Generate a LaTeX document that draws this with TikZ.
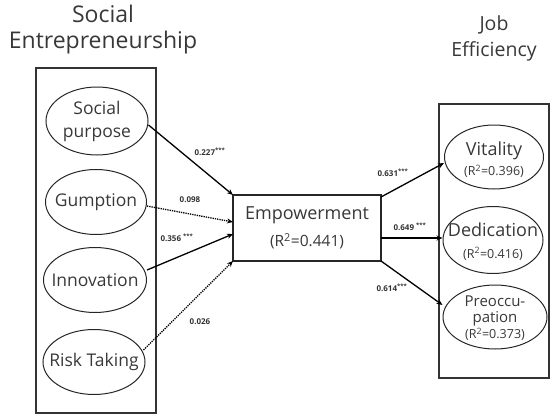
\documentclass[tikz,border=0pt]{standalone}
\usepackage{fontspec}
\setmainfont{Open Sans}
\usetikzlibrary{shapes.geometric,arrows.meta}
\newcommand\rsqfont{\fontsize{12.5}{14}\selectfont}
\begin{document}
\begin{tikzpicture}[x=1pt,y=-1pt,
  grp/.style={draw=black!80,line width=1.1pt},
  latent/.style={draw=black!85,ellipse,line width=1pt,inner sep=0pt},
  lbl/.style={inner sep=0pt,text=black!78,font=\fontsize{17.5}{23}\selectfont,align=center},
  path/.style={line width=1.3pt,-{Stealth[length=6pt,width=5pt]}},
  weak/.style={line width=1.3pt,densely dotted,-{Stealth[length=6pt,width=5pt]}},
  coef/.style={font=\fontsize{8}{9}\selectfont\bfseries,text=black!80,inner sep=0pt},
  ttl/.style={font=\fontsize{23}{26}\selectfont,text=black!78,align=center}
]
\useasboundingbox (0,0) rectangle (557,415);
% titles
\node[ttl] (t1) at (103,14) {Social};
\node[ttl] (t2) at (103,43) {Entrepreneurship};
\node[ttl,font=\fontsize{19.5}{22}\selectfont] (t3) at (494,25) {Job};
\node[ttl,font=\fontsize{19.5}{22}\selectfont] (t4) at (494,51) {Efficiency};
% group boxes
\draw[grp] (36,68) rectangle (156,413);
\draw[grp] (439,104) rectangle (549,378);
% left ellipses
\node[latent,minimum width=102pt,minimum height=68pt] (sp) at (97,121) {};
\node[lbl] (spt) at (sp.center) {Social\\purpose};
\node[latent,minimum width=101pt,minimum height=65pt] (gu) at (96,202) {};
\node[lbl] (gut) at (gu.center) {Gumption};
\node[latent,minimum width=103pt,minimum height=65pt] (in) at (95,280) {};
\node[lbl] (int) at (in.center) {Innovation};
\node[latent,minimum width=102pt,minimum height=65pt] (rt) at (94,362) {};
\node[lbl] (rtt) at (rt.center) {Risk Taking};
% empowerment
\node[draw=black!85,line width=1.3pt,minimum width=148pt,minimum height=66pt,inner sep=0pt,align=center,text=black!78,font=\fontsize{18}{27}\selectfont] (em) at (307,228)
  {Empowerment\\{\fontsize{15.5}{17}\selectfont (R\textsuperscript{2}=0.441)}};
% right ellipses
\node[latent,minimum width=99pt,minimum height=64pt] (vi) at (494,157) {};
\node[lbl,font=\fontsize{18}{20}\selectfont] (vit) at ([yshift=-3pt]vi.center) {Vitality\\{\rsqfont(R\textsuperscript{2}=0.396)}};
\node[latent,minimum width=100pt,minimum height=67pt] (de) at (493,240) {};
\node[lbl,font=\fontsize{18}{22}\selectfont] (det) at ([yshift=-1.5pt]de.center) {Dedication\\{\rsqfont(R\textsuperscript{2}=0.416)}};
\node[latent,minimum width=104pt,minimum height=64pt] (pr) at (495,317) {};
\node[lbl,font=\fontsize{15}{16}\selectfont] (prt) at ([yshift=-1.5pt]pr.center) {Preoccu-\\pation\\{\rsqfont(R\textsuperscript{2}=0.373)}};
% connector end coordinates
\coordinate (e1) at (233,195);
\coordinate (e2) at (233,222);
\coordinate (e3) at (233,234);
\coordinate (e4) at (233,261);
\coordinate (o1) at (381,197);
\coordinate (o2) at (381,238);
\coordinate (o3) at (381,261);
% paths
\draw[path] (sp.east) ++(0,4) -- (e1);
\draw[weak] (gu.east) ++(0,4) -- (e2);
\draw[path] (in.east) ++(0,-10) -- (e3);
\draw[weak] (rt.east) ++(-2,-12) -- (e4);
\draw[path] (o1) -- (vi.west |- 0,163);
\draw[path] (o2) -- (de.west |- 0,238);
\draw[path] (o3) -- (pr.west |- 0,305);
% coefficients
\node[coef] (c1) at (210,152) {0.227\textsuperscript{***}};
\node[coef] (c2) at (190,200) {0.098};
\node[coef] (c3) at (177,238) {0.356 \textsuperscript{***}};
\node[coef] (c4) at (200,322) {0.026};
\node[coef] (c5) at (393,173) {0.631\textsuperscript{***}};
\node[coef] (c6) at (410,227) {0.649 \textsuperscript{***}};
\node[coef] (c7) at (392,288) {0.614\textsuperscript{***}};
\end{tikzpicture}
\end{document}
